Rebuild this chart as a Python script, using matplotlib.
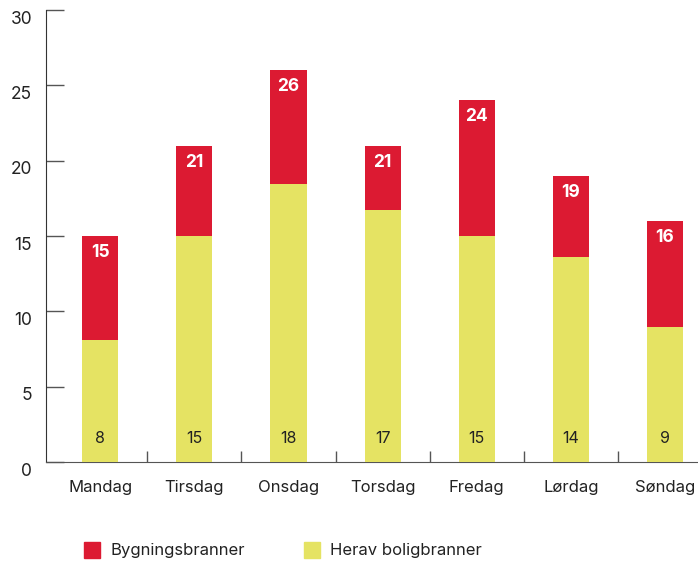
import numpy as np
import matplotlib.pyplot as plt
import matplotlib.transforms as mtransforms
from matplotlib.patches import Rectangle

# DATA
dager = ['Mandag', 'Tirsdag', 'Onsdag', 'Torsdag', 'Fredag', 'Lørdag', 'Søndag']
bygningsbranner = [15, 21, 26, 21, 24, 19, 16]
boligbranner = [8.1, 15, 18.45, 16.7, 15, 13.6, 8.95]
bolig_etiketter = [8, 15, 18, 17, 15, 14, 9]

rod = '#DC1A32'
gul = '#E5E363'
tekst = '#222222'

plt.rcParams['font.family'] = ['Inter', 'DejaVu Sans']

fig = plt.figure(figsize=(6.98, 5.62), dpi=100)
ax = fig.add_axes([46 / 698, 100 / 562, 652 / 698, 452 / 562])

x = np.arange(len(dager))
w = 0.384
ax.bar(x, bygningsbranner, width=w, color=rod, zorder=2)
ax.bar(x, boligbranner, width=w, color=gul, zorder=3)

for i in range(len(dager)):
    ax.text(x[i], bygningsbranner[i] - 1.1, str(bygningsbranner[i]), ha='center', va='center',
            color='white', fontsize=12.5, fontweight='bold', zorder=4)
    ax.text(x[i], 1.55, str(bolig_etiketter[i]), ha='center', va='center',
            color=tekst, fontsize=11.5, zorder=4)

ax.set_xlim(-0.576, 6.35)
ax.set_ylim(0, 30)
ax.set_yticks(range(0, 31, 5))
ax.set_xticks(x)
ax.set_xticklabels(dager)
ax.set_xticks(np.arange(0.5, 6.5, 1), minor=True)

for s in ['top', 'right']:
    ax.spines[s].set_visible(False)
ax.spines['left'].set_color('#333333')
ax.spines['bottom'].set_color('#555555')

ax.tick_params(axis='y', direction='in', length=13, width=1, color='#555555',
               labelsize=12.5, labelcolor=tekst, pad=10)
ax.tick_params(axis='x', which='major', length=0, labelsize=12, labelcolor=tekst, pad=13)
ax.tick_params(axis='x', which='minor', direction='in', length=8, width=1, color='#555555')

# y-etikettene står litt under strekene i originalen
forskyv = mtransforms.ScaledTranslation(0, -7 / 100, fig.dpi_scale_trans)
for lbl in ax.get_yticklabels():
    lbl.set_transform(lbl.get_transform() + forskyv)

# legend
fig.patches.append(Rectangle((84 / 698, (562 - 558) / 562), 16 / 698, 16 / 562,
                             transform=fig.transFigure, color=rod, figure=fig))
fig.text(110 / 698, (562 - 550) / 562, 'Bygningsbranner', fontsize=12, color=tekst, va='center')
fig.patches.append(Rectangle((304 / 698, (562 - 558) / 562), 16 / 698, 16 / 562,
                             transform=fig.transFigure, color=gul, figure=fig))
fig.text(330 / 698, (562 - 550) / 562, 'Herav boligbranner', fontsize=12, color=tekst, va='center')

plt.savefig('out.png', dpi=100)
